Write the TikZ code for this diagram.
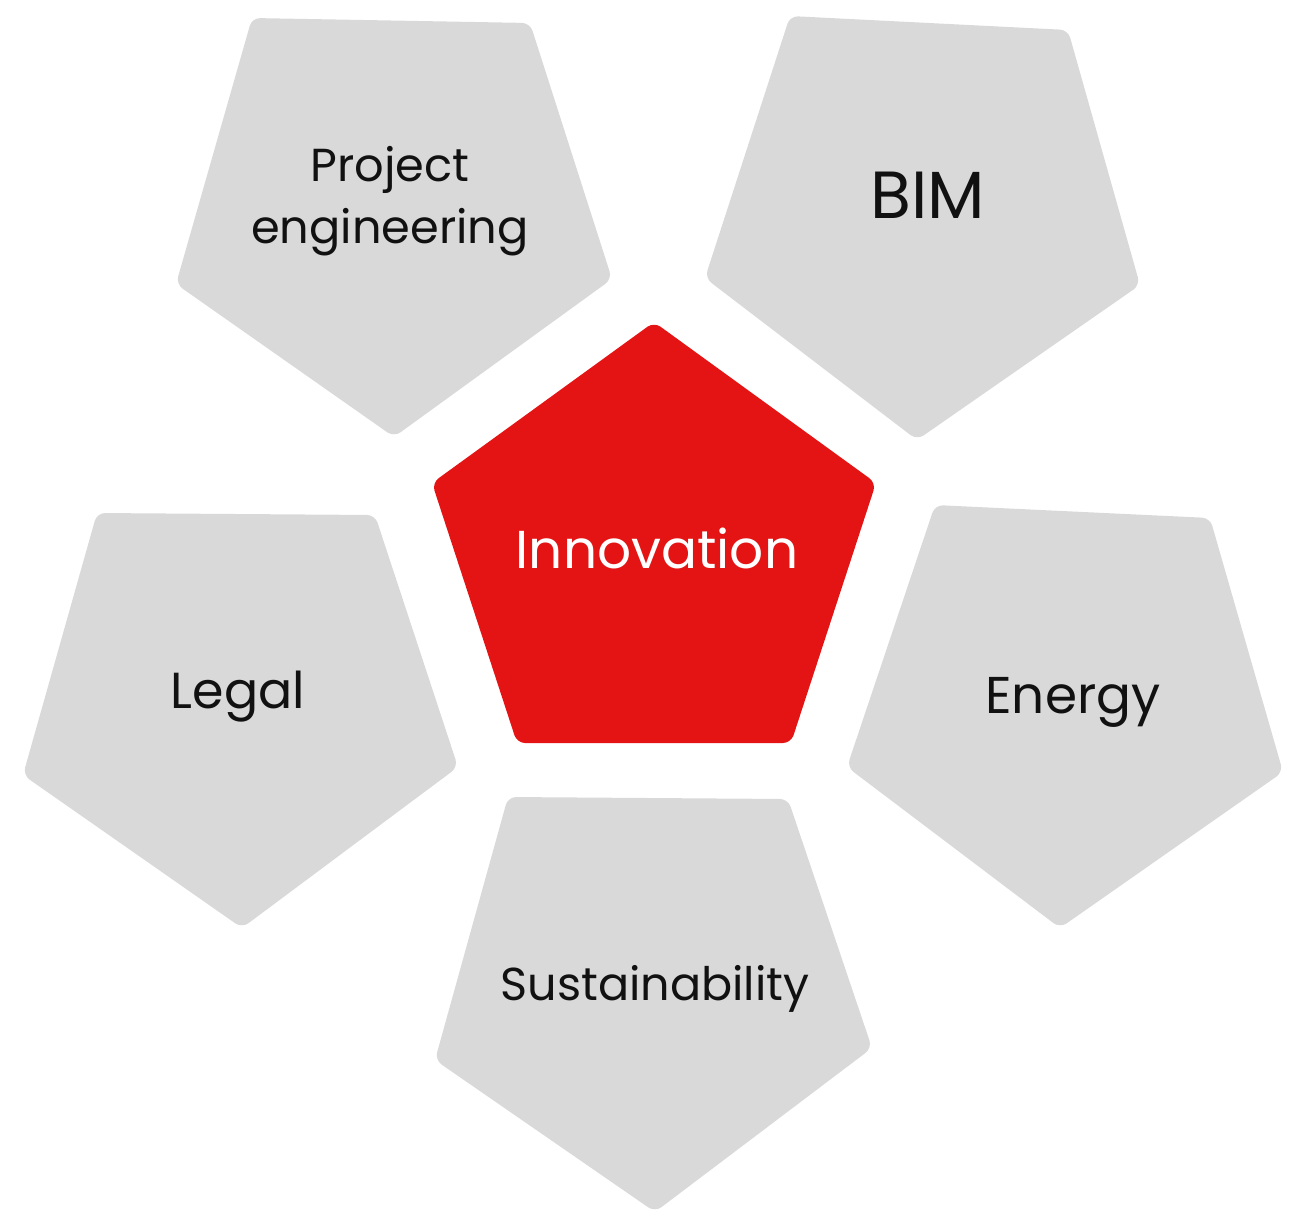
\documentclass[tikz,border=0pt]{standalone}
\usepackage{fontspec}
\setmainfont{Poppins}
\definecolor{pentgrey}{RGB}{217,217,217}
\definecolor{innored}{RGB}{229,20,20}
\definecolor{txt}{RGB}{17,17,17}
\begin{document}
\begin{tikzpicture}[x=0.75pt,y=-0.75pt,
  greypent/.style={fill=pentgrey, rounded corners=6pt},
  redpent/.style={fill=innored, rounded corners=6pt},
  lbl/.style={text=txt, align=center, inner sep=0pt, anchor=base}]
\useasboundingbox (0,0) rectangle (1307,1221);
% grey pentagons
\path[greypent] (252,18) -- (530,23) -- (612,279) -- (394,437) -- (176,284) -- cycle;
\path[greypent] (790,16) -- (1068,30) -- (1140,285) -- (917,440) -- (705,278) -- cycle;
\path[greypent] (97,513) -- (375,515) -- (458,767) -- (242,928) -- (23,775) -- cycle;
\path[greypent] (935,505) -- (1210,518) -- (1283,772) -- (1060,928) -- (847,767) -- cycle;
\path[greypent] (508,797) -- (788,799) -- (872,1048) -- (655,1212) -- (435,1060) -- cycle;
% red pentagon
\path[redpent] (654,322) -- (876,483) -- (791,743) -- (517,743) -- (432,483) -- cycle;
% labels
\node[lbl, font=\fontsize{34.7}{46.5}\selectfont] (pe) at (390,243) {Project\\engineering};
\node[lbl, font=\fontsize{50}{58}\selectfont] (bim) at (928,218) {BIM};
\node[lbl, text=white, font=\fontsize{40}{48}\selectfont] (inno) at (657,568) {Innovation};
\node[lbl, font=\fontsize{38}{46}\selectfont] (legal) at (238,708) {Legal};
\node[lbl, font=\fontsize{38.8}{46}\selectfont] (energy) at (1073,713) {Energy};
\node[lbl, font=\fontsize{34.6}{42}\selectfont] (sust) at (655,1000) {Sustainability};
\end{tikzpicture}
\end{document}
